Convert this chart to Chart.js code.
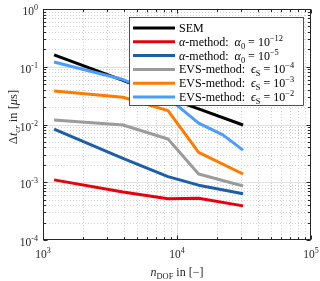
<!DOCTYPE html>
<html><head><meta charset="utf-8">
<script src="https://cdn.jsdelivr.net/npm/chart.js@4"></script>
<style>html,body{margin:0;padding:0;background:#fff}#w{width:320px;height:281px;position:relative}</style>
</head><body><div id="w"><canvas id="c" width="320" height="281"></canvas></div>
<script>
// ---- data ----
const dof      = [1210, 3950, 8570, 14500, 31100];
const dofEvs2  = [1210, 3950, 8570, 14500, 22000, 31100];
const sem      = [0.160, 0.058, 0.029, 0.0186, 0.0098];
const alpha12  = [0.00110, 0.00068, 0.00052, 0.00053, 0.00039];
const alpha5   = [0.0083, 0.0026, 0.00125, 0.00089, 0.00063];
const evs4     = [0.0120, 0.0098, 0.0056, 0.00139, 0.00086];
const evs3     = [0.038, 0.0296, 0.0174, 0.0033, 0.00139];
const evs2     = [0.121, 0.060, 0.029, 0.0106, 0.0066, 0.0036];
const xTickExp = [3, 4, 5];
const yTickExp = [-4, -3, -2, -1, 0];
const seriesNames = ['SEM', 'α-method: α0 = 10^-12', 'α-method: α0 = 10^-5',
  'EVS-method: ϵS = 10^-4', 'EVS-method: ϵS = 10^-3', 'EVS-method: ϵS = 10^-2'];
const seriesColors = ['#000000', '#e8000b', '#1d5ea8', '#9b9b9b', '#ff7b00', '#4a9cff'];

const FONT = '"Liberation Serif", "DejaVu Serif", serif';
const toXY = (xs, ys) => xs.map((x, i) => ({x: x, y: ys[i]}));
const seriesData = [toXY(dof, sem), toXY(dof, alpha12), toXY(dof, alpha5),
  toXY(dof, evs4), toXY(dof, evs3), toXY(dofEvs2, evs2)];

// rich-text labels (legend)
function legendParts(i) {
  if (i === 0) return [{t: 'SEM'}];
  if (i <= 2) {
    const e = i === 1 ? '−12' : '−5';
    return [{t: 'α', i: 1}, {t: '-method:  '}, {t: 'α', i: 1}, {t: '0', s: 'sub'}, {t: ' = 10'}, {t: e, s: 'sup'}];
  }
  const e = ['−4', '−3', '−2'][i - 3];
  return [{t: 'EVS-method:  '}, {t: 'ϵ', i: 1}, {t: 'S', s: 'sub'}, {t: ' = 10'}, {t: e, s: 'sup'}];
}

function fontFor(p, size) {
  const sz = p.s ? size * 0.7 : size;
  return (p.i ? 'italic ' : '') + sz.toFixed(1) + 'px ' + FONT;
}
function richWidth(ctx, parts, size) {
  let w = 0;
  for (const p of parts) { ctx.font = fontFor(p, size); w += ctx.measureText(p.t).width; }
  return w;
}
function drawRich(ctx, parts, x, y, align, size) {
  const w = richWidth(ctx, parts, size);
  let cx = align === 'right' ? x - w : align === 'center' ? x - w / 2 : x;
  ctx.textAlign = 'left';
  ctx.textBaseline = 'alphabetic';
  for (const p of parts) {
    ctx.font = fontFor(p, size);
    const dy = p.s === 'sup' ? -size * 0.42 : p.s === 'sub' ? size * 0.25 : 0;
    ctx.fillText(p.t, cx, y + dy);
    cx += ctx.measureText(p.t).width;
  }
}

const decorPlugin = {
  id: 'decor',
  beforeDatasetsDraw(chart) {
    const {ctx, chartArea: a, scales: {x, y}} = chart;
    ctx.save();
    ctx.beginPath(); ctx.rect(a.left, a.top, a.right - a.left, a.bottom - a.top); ctx.clip();
    // minor grid (dotted)
    ctx.strokeStyle = '#d2d2d2'; ctx.lineWidth = 1; ctx.setLineDash([1, 2]);
    for (let d = 3; d < 5; d++) for (let m = 2; m <= 9; m++) {
      const px = Math.round(x.getPixelForValue(m * Math.pow(10, d))) + 0.5;
      ctx.beginPath(); ctx.moveTo(px, a.top); ctx.lineTo(px, a.bottom); ctx.stroke();
    }
    for (let d = -4; d < 0; d++) for (let m = 2; m <= 9; m++) {
      const py = Math.round(y.getPixelForValue(m * Math.pow(10, d))) + 0.5;
      ctx.beginPath(); ctx.moveTo(a.left, py); ctx.lineTo(a.right, py); ctx.stroke();
    }
    // major grid
    ctx.setLineDash([]); ctx.strokeStyle = '#e0e0e0';
    for (const e of xTickExp) {
      const px = Math.round(x.getPixelForValue(Math.pow(10, e))) + 0.5;
      ctx.beginPath(); ctx.moveTo(px, a.top); ctx.lineTo(px, a.bottom); ctx.stroke();
    }
    for (const e of yTickExp) {
      const py = Math.round(y.getPixelForValue(Math.pow(10, e))) + 0.5;
      ctx.beginPath(); ctx.moveTo(a.left, py); ctx.lineTo(a.right, py); ctx.stroke();
    }
    ctx.restore();
  },
  afterDatasetsDraw(chart) {
    const {ctx, chartArea: a, scales: {x, y}} = chart;
    ctx.save();
    const L = Math.round(a.left) + 0.5, R = Math.round(a.right) - 0.5;
    const T = Math.round(a.top) + 0.5, B = Math.round(a.bottom) - 0.5;
    ctx.strokeStyle = '#262626'; ctx.lineWidth = 1;
    ctx.strokeRect(L, T, R - L, B - T);
    // ticks
    ctx.beginPath();
    for (let d = 3; d <= 5; d++) for (let m = 1; m <= 9; m++) {
      const v = m * Math.pow(10, d); if (v > 1e5) break;
      const px = Math.round(x.getPixelForValue(v)) + 0.5;
      const len = m === 1 ? 4 : 2.5;
      ctx.moveTo(px, B); ctx.lineTo(px, B - len);
      ctx.moveTo(px, T); ctx.lineTo(px, T + len);
    }
    for (let d = -4; d <= 0; d++) for (let m = 1; m <= 9; m++) {
      const v = m * Math.pow(10, d); if (v > 1) break;
      const py = Math.round(y.getPixelForValue(v)) + 0.5;
      const len = m === 1 ? 4 : 2.5;
      ctx.moveTo(L, py); ctx.lineTo(L + len, py);
      ctx.moveTo(R, py); ctx.lineTo(R - len, py);
    }
    ctx.stroke();
    // tick labels
    ctx.fillStyle = '#262626';
    for (const e of xTickExp) {
      const px = x.getPixelForValue(Math.pow(10, e));
      drawRich(ctx, [{t: '10'}, {t: String(e), s: 'sup'}], px, a.bottom + 18, 'center', 11.5);
    }
    for (const e of yTickExp) {
      const py = y.getPixelForValue(Math.pow(10, e));
      drawRich(ctx, [{t: '10'}, {t: e < 0 ? '-' + (-e) : String(e), s: 'sup'}], a.left - 5, py + 6, 'right', 11.5);
    }
    // axis titles
    ctx.fillStyle = '#262626';
    drawRich(ctx, [{t: 'n', i: 1}, {t: 'DOF', s: 'sub'}, {t: ' in [−]'}], (a.left + a.right) / 2, 276, 'center', 12);
    ctx.save();
    ctx.translate(17, 117);
    ctx.rotate(-Math.PI / 2);
    drawRich(ctx, [{t: 'Δ'}, {t: 't', i: 1}, {t: 'cr', i: 1, s: 'sub'}, {t: ' in ['}, {t: 'μ', i: 1}, {t: 's]'}], 0, 0, 'center', 12.5);
    ctx.restore();
    // legend
    const lx0 = 129.5, ly0 = 17.5, lx1 = 303.5, ly1 = 105.5;
    ctx.fillStyle = '#ffffff'; ctx.fillRect(lx0, ly0, lx1 - lx0, ly1 - ly0);
    ctx.strokeStyle = '#262626'; ctx.lineWidth = 0.8; ctx.strokeRect(lx0, ly0, lx1 - lx0, ly1 - ly0);
    for (let i = 0; i < seriesNames.length; i++) {
      const ry = 28 + i * 13.8;
      ctx.strokeStyle = seriesColors[i]; ctx.lineWidth = 3;
      ctx.beginPath(); ctx.moveTo(133, ry); ctx.lineTo(175, ry); ctx.stroke();
      ctx.fillStyle = '#000';
      drawRich(ctx, legendParts(i), 179, ry + 4, 'left', 12);
    }
    ctx.restore();
  }
};

new Chart(document.getElementById('c'), {
  type: 'line',
  data: {
    datasets: seriesData.map((d, i) => ({
      label: seriesNames[i], data: d, borderColor: seriesColors[i], backgroundColor: seriesColors[i],
      borderWidth: 3, pointRadius: 0, tension: 0, fill: false, order: seriesNames.length - 1 - i,
      borderJoinStyle: 'round'
    }))
  },
  options: {
    responsive: false, animation: false, devicePixelRatio: 1,
    layout: {padding: {left: 43, top: 9, right: 9, bottom: 41}},
    scales: {
      x: {type: 'logarithmic', min: 1000, max: 100000, display: false},
      y: {type: 'logarithmic', min: 1e-4, max: 1, display: false}
    },
    plugins: {legend: {display: false}, tooltip: {enabled: false}}
  },
  plugins: [decorPlugin]
});
</script>
</body></html>
